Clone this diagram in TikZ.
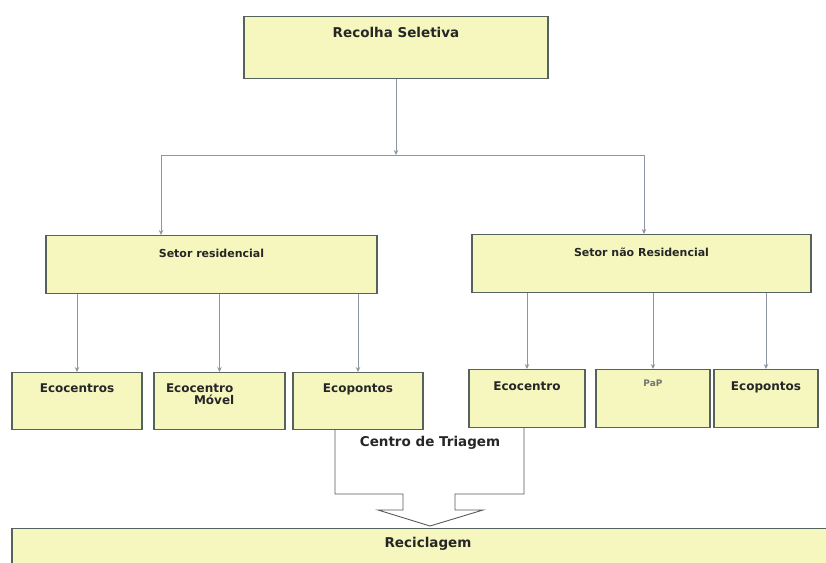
\documentclass[tikz,border=0pt]{standalone}
\usepackage{fontspec}
\setmainfont{DejaVu Sans}
\usetikzlibrary{arrows.meta}
\definecolor{boxfill}{HTML}{F5F7BF}
\definecolor{boxline}{HTML}{56625E}
\definecolor{linkgray}{HTML}{8E95A3}
\begin{document}
\begin{tikzpicture}[x=1pt,y=-1pt,
  >={Stealth[length=5pt,width=4.5pt]},
  box/.style={draw=boxline,line width=1.1pt,fill=boxfill,anchor=north,
    inner xsep=0pt,inner ysep=0pt,text=black!85,
    font=\bfseries\fontsize{12}{14}\selectfont},
  head/.style={text=black!85,font=\bfseries\fontsize{13.5}{16}\selectfont},
  sector/.style={font=\bfseries\fontsize{11}{13}\selectfont},
  link/.style={->,draw=linkgray,line width=0.9pt}]
  \useasboundingbox (0,0) rectangle (826,562);
  \clip (0,0) rectangle (826,562);
  % top box and the two sectors
  \node[box,head,minimum width=304pt,text height=21pt,text depth=41pt] (rs) at (396,16) {Recolha Seletiva};
  \node[box,sector,minimum width=331pt,text height=22pt,text depth=36pt] (sr) at (211.5,235) {Setor residencial};
  \node[box,sector,minimum width=339pt,text height=22pt,text depth=36pt] (snr) at (641.5,234) {Setor não Residencial};
  \coordinate (jl) at (161,155);
  \coordinate (jm) at (396,155);
  \coordinate (jr) at (644,155);
  \draw[link] (rs.south) -- (jm);
  \draw[linkgray,line width=0.9pt] (jl) -- (jr);
  \draw[link] (jl) -- (jl |- sr.north);
  \draw[link] (jr) -- (jr |- snr.north);
  % the collection points
  \node[box,minimum width=130pt,text height=20pt,text depth=37pt] (ec1) at (77,372) {Ecocentros};
  \node[box,minimum width=131pt,text height=20pt,text depth=37pt] (ecm) at (219.5,372)
    {\begin{tabular}[t]{@{}p{107pt}@{}}Ecocentro\\[-2pt]\hspace*{28pt}Móvel\end{tabular}};
  \node[box,minimum width=130pt,text height=20pt,text depth=37pt] (ep1) at (358,372) {Ecopontos};
  \node[box,minimum width=116pt,text height=21pt,text depth=37pt] (ec2) at (527,369) {Ecocentro};
  \node[box,minimum width=114pt,text height=17pt,text depth=41pt,text=black!55,
    font=\bfseries\fontsize{9}{11}\selectfont] (pap) at (653,369) {PaP};
  \node[box,minimum width=104pt,text height=21pt,text depth=37pt] (ep2) at (766,369) {Ecopontos};
  \foreach \b in {ec1,ecm,ep1}
    \draw[link] (sr.south -| \b.north) -- (\b.north);
  \foreach \b in {ec2,pap,ep2}
    \draw[link] (snr.south -| \b.north) -- (\b.north);
  % block arrow down to recycling
  \draw[black!65,line width=0.9pt] (335,429) -- (335,494) -- (403,494) -- (403,510)
    -- (378,510) -- (430,526) -- (483,510) -- (455,510) -- (455,494) -- (524,494) -- (524,427);
  \node[head] (ct) at (430,443) {Centro de Triagem};
  \node[box,head,minimum width=832pt,text height=19pt,text depth=50pt] (rc) at (428,528) {Reciclagem};
\end{tikzpicture}
\end{document}
